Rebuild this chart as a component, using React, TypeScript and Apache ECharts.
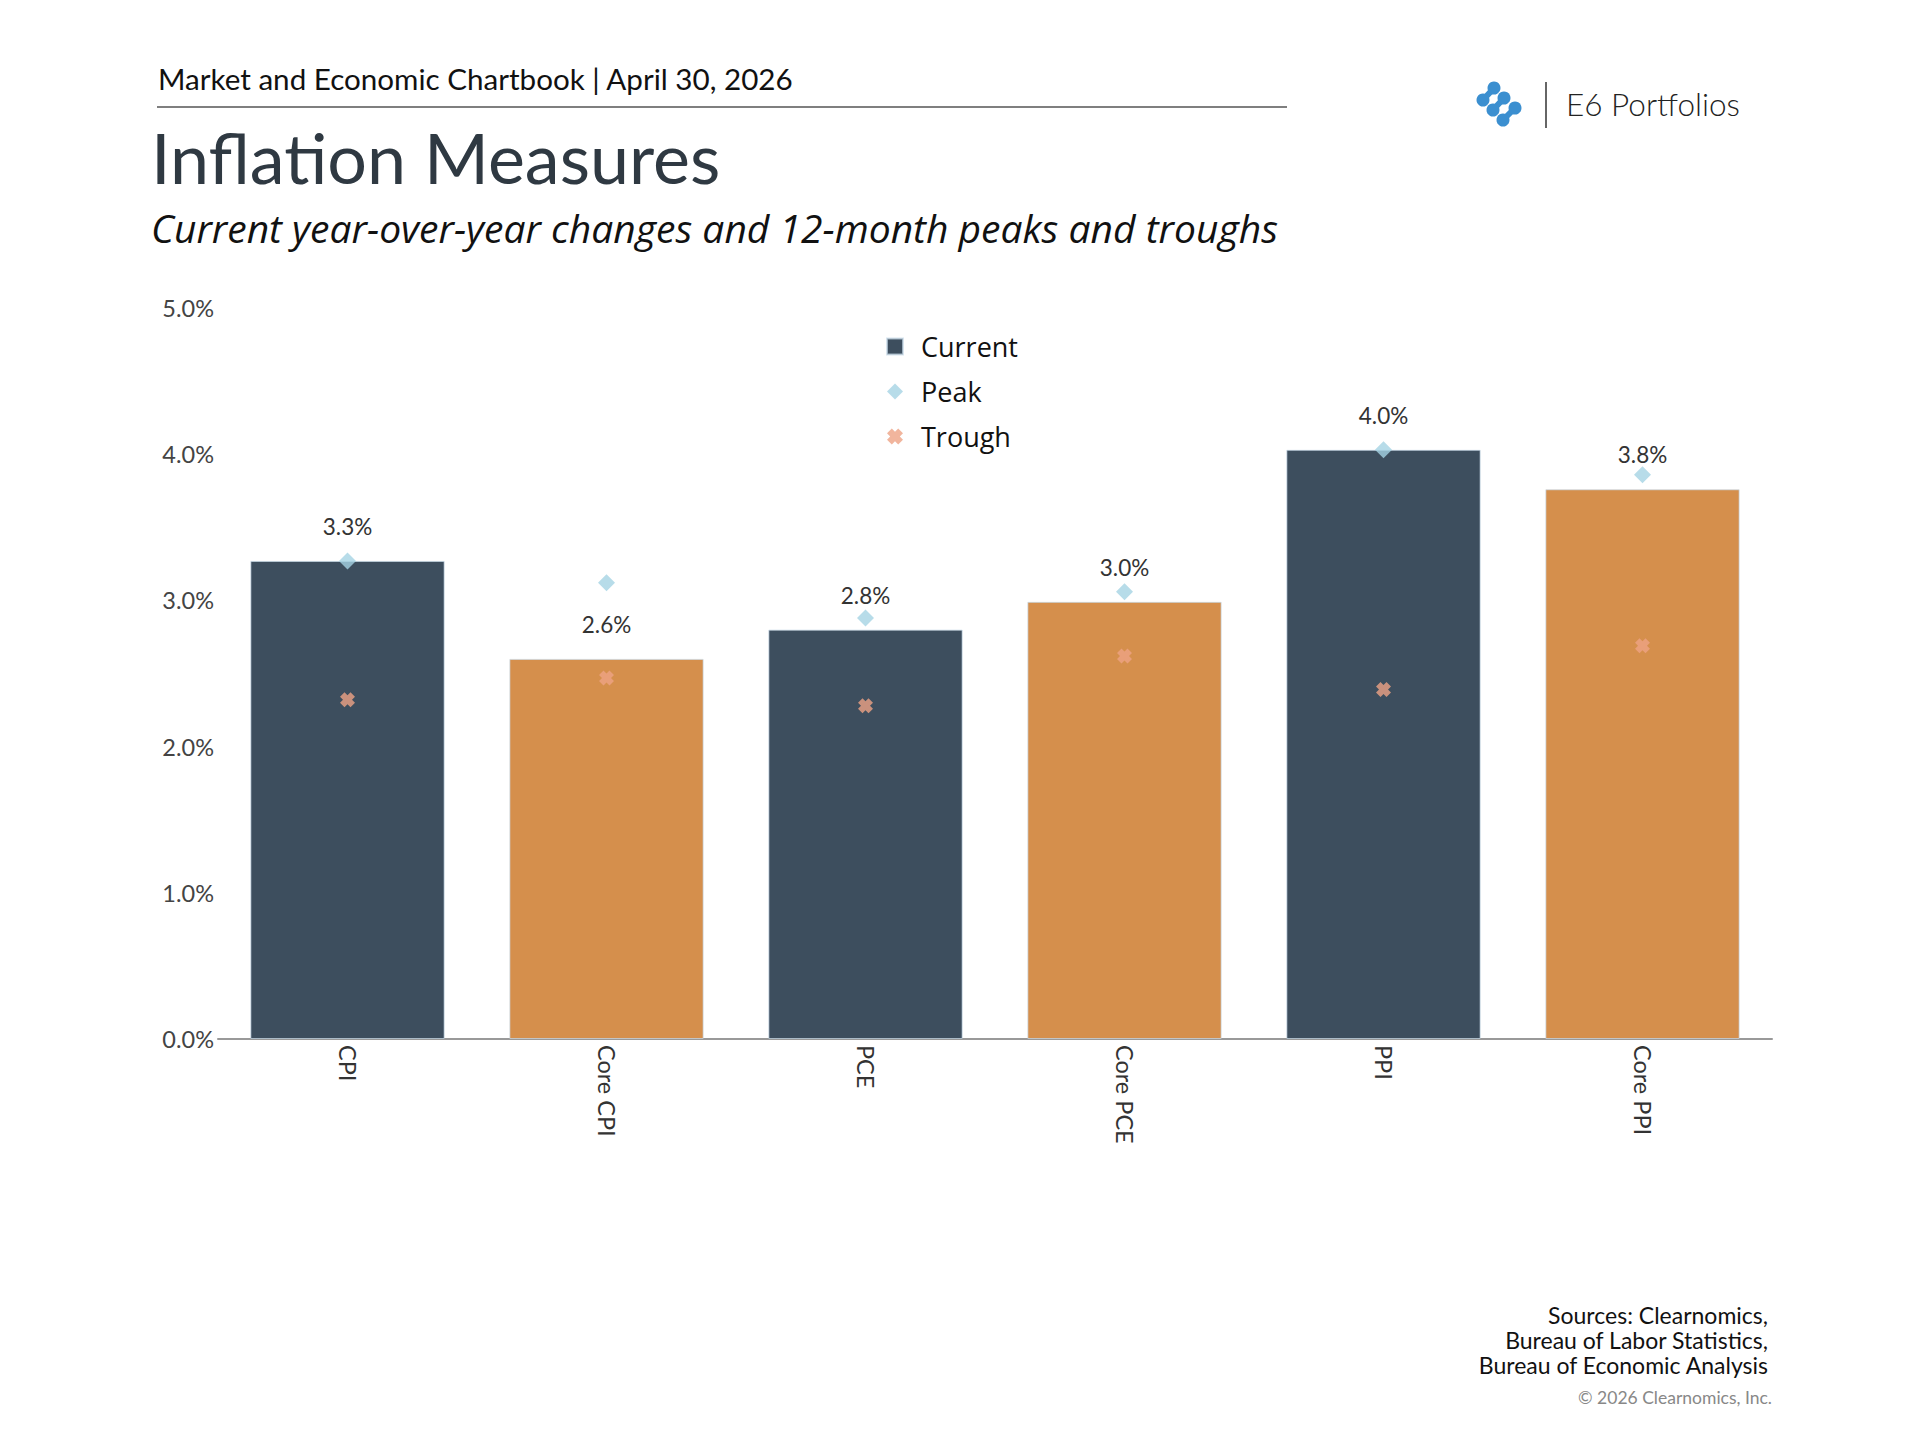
import React, { useEffect, useRef } from "react";
import * as echarts from "echarts";

const categories = ["CPI", "Core CPI", "PCE", "Core PCE", "PPI", "Core PPI"];
const currentValues = [3.27, 2.6, 2.8, 2.99, 4.03, 3.76];
const peakValues = [3.27, 3.12, 2.88, 3.06, 4.03, 3.86];
const troughValues = [2.32, 2.47, 2.28, 2.62, 2.39, 2.69];
const barColors = ["#3d4e5e", "#d58f4c", "#3d4e5e", "#d58f4c", "#3d4e5e", "#d58f4c"];
const yTicks = { min: 0, max: 5, interval: 1 };
const sourceLines = ["Sources: Clearnomics,", "Bureau of Labor Statistics,", "Bureau of Economic Analysis"];

const FONT = "Lato, 'Noto Sans', sans-serif";
const OPEN = "'Open Sans', Lato, sans-serif";
const CROSS = "path://M3,0 L5,2 L7,0 L10,3 L8,5 L10,7 L7,10 L5,8 L3,10 L0,7 L2,5 L0,3 Z";

export default function App() {
  const ref = useRef<HTMLDivElement>(null);
  useEffect(() => {
    document.body.style.margin = "0";
    const chart = echarts.init(ref.current!, null, { renderer: "svg" });
    const logoCircles = [
      [1494, 88], [1483, 100], [1504, 98], [1493, 110], [1515, 108], [1503, 120],
    ];
    const graphics: any[] = [
      { type: "text", left: 158, top: 63, style: { text: "Market and Economic Chartbook | April 30, 2026", font: `29.6px ${FONT}`, fill: "#111" } },
      { type: "line", shape: { x1: 157, y1: 107, x2: 1287, y2: 107 }, style: { stroke: "#555", lineWidth: 1.5 } },
      { type: "text", left: 151, top: 122, style: { text: "Inflation Measures", font: `70px ${FONT}`, fill: "#2f3942" } },
      { type: "text", left: 151, top: 208, style: { text: "Current year-over-year changes and 12-month peaks and troughs", font: `italic 39px ${OPEN}`, fill: "#111" } },
      { type: "line", shape: { x1: 1546, y1: 82, x2: 1546, y2: 128 }, style: { stroke: "#333", lineWidth: 1.5 } },
      { type: "text", left: 1566, top: 88, style: { text: "E6 Portfolios", font: `300 31.5px ${FONT}`, fill: "#222" } },
      ...[[0, 1], [2, 3], [4, 5]].map(([a, b]) => ({
        type: "line",
        shape: { x1: logoCircles[a][0], y1: logoCircles[a][1], x2: logoCircles[b][0], y2: logoCircles[b][1] },
        style: { stroke: "#3b8fd0", lineWidth: 6, lineCap: "round" },
      })),
      ...logoCircles.map(([cx, cy]) => ({ type: "circle", shape: { cx, cy, r: 6.5 }, style: { fill: "#3b8fd0" } })),
      ...sourceLines.map((t, i) => ({
        type: "text", x: 1768, y: 1315 + i * 25,
        style: { text: t, font: `23px ${FONT}`, fill: "#111", align: "right", verticalAlign: "middle" },
      })),
      { type: "text", x: 1772, y: 1397, style: { text: "© 2026 Clearnomics, Inc.", font: `17.5px ${FONT}`, fill: "#888", align: "right", verticalAlign: "middle" } },
    ];
    chart.setOption({
      animation: false,
      backgroundColor: "#fff",
      textStyle: { fontFamily: FONT },
      grid: { left: 218, right: 148, top: 308, bottom: 401, containLabel: false },
      legend: {
        orient: "vertical",
        left: 881,
        top: 328,
        itemWidth: 16,
        itemHeight: 16,
        itemGap: 18,
        textStyle: { fontSize: 27, color: "#111", lineHeight: 20, padding: [0, 0, 0, 13], fontFamily: OPEN },
        data: [
          { name: "Current", icon: "rect" },
          { name: "Peak", icon: "diamond" },
          { name: "Trough", icon: CROSS },
        ],
      },
      xAxis: {
        type: "category",
        data: categories,
        axisLine: { lineStyle: { color: "#999", width: 2 } },
        axisTick: { show: false },
        axisLabel: { rotate: -90, fontSize: 23.5, color: "#333", margin: 6, fontFamily: FONT },
      },
      yAxis: {
        type: "value",
        min: yTicks.min,
        max: yTicks.max,
        interval: yTicks.interval,
        splitLine: { show: false },
        axisLine: { show: false },
        axisTick: { show: false },
        axisLabel: { fontSize: 23.5, color: "#444", margin: 4, fontFamily: FONT, formatter: (v: number) => `${v.toFixed(1)}%` },
      },
      series: [
        {
          name: "Current",
          type: "bar",
          barCategoryGap: "25%",
          itemStyle: { color: barColors[0], borderColor: "rgba(200,218,232,0.7)", borderWidth: 1 },
          data: currentValues.map((v, i) => ({ value: v, itemStyle: { color: barColors[i] } })),
          label: {
            show: true,
            position: "top",
            distance: 23,
            fontSize: 22.5,
            color: "#333",
            fontFamily: FONT,
            formatter: (p: any) => `${Number(p.value).toFixed(1)}%`,
          },
          z: 1,
        },
        {
          name: "Peak",
          type: "scatter",
          symbol: "diamond",
          symbolSize: [17, 17],
          itemStyle: { color: "#a5d3e4" },
          data: peakValues,
          z: 3,
        },
        {
          name: "Trough",
          type: "scatter",
          symbol: CROSS,
          symbolSize: 15,
          itemStyle: { color: "#eea284" },
          data: troughValues,
          z: 3,
        },
      ],
      graphic: graphics,
    });
    return () => chart.dispose();
  }, []);
  return <div ref={ref} style={{ width: 1920, height: 1440 }} />;
}
